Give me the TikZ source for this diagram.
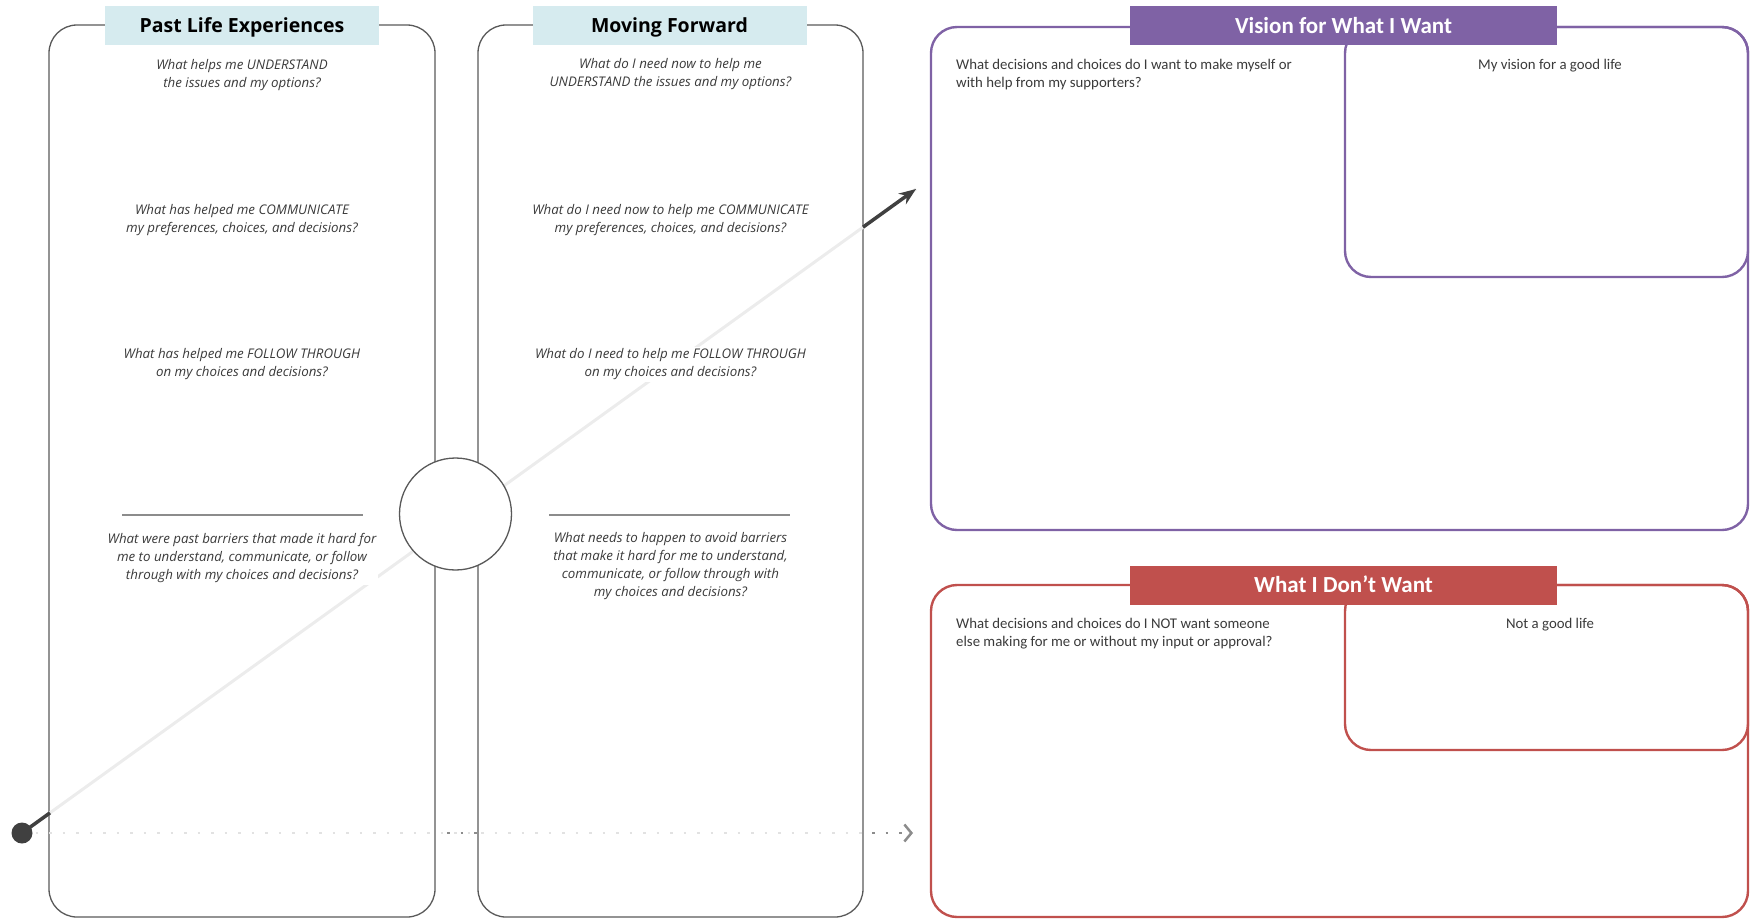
\documentclass[tikz,border=0pt]{standalone}
\usepackage{fontspec}
\setmainfont{Open Sans}
\newfontfamily\calfont{Carlito}
\usetikzlibrary{calc,arrows.meta}
\definecolor{panelgrey}{HTML}{595959}
\definecolor{hdrblue}{HTML}{D6EBEF}
\definecolor{qgrey}{HTML}{3A3A3A}
\definecolor{vpurple}{HTML}{7F62A5}
\definecolor{dred}{HTML}{C0504D}
\definecolor{lightline}{HTML}{ECECEC}
\definecolor{darkline}{HTML}{404040}
\definecolor{dotlight}{HTML}{E2E2E2}
\definecolor{dotdark}{HTML}{8C8C8C}
\begin{document}
\begin{tikzpicture}[x=1pt,y=-1pt,
  panel/.style={draw=panelgrey, line width=1.3pt, rounded corners=28pt, rectangle, inner sep=0pt},
  cpanel/.style={line width=2.4pt, rounded corners=26pt, rectangle, inner sep=0pt},
  bluehdr/.style={fill=hdrblue, minimum width=274pt, minimum height=39pt, inner sep=0pt, text height=14pt, text depth=0pt, text=black, font=\bfseries\fontsize{19.5}{22}\selectfont},
  colhdr/.style={minimum width=427pt, minimum height=39pt, inner sep=0pt, text height=15pt, text depth=0pt, text=white, font=\calfont\bfseries\fontsize{23}{25}\selectfont},
  q/.style={font=\itshape\fontsize{13.3}{18}\selectfont, text=qgrey, align=center, inner sep=2pt, fill=white},
  rq/.style={font=\calfont\fontsize{14.8}{18}\selectfont, text=qgrey, align=left, inner sep=0pt},
  sep/.style={draw=dotdark, line width=2pt},
]
\useasboundingbox (0,0) rectangle (1750,919);
% left panels
\node[panel, minimum width=386pt, minimum height=892pt] (past) at (242,471) {};
\node[panel, minimum width=385pt, minimum height=892pt] (fwd) at (670.5,471) {};
\node[bluehdr] (pasthdr) at (242,25.5) {Past Life Experiences};
\node[bluehdr] (fwdhdr) at (669.5,25.5) {Moving Forward};
% right panels
\node[cpanel, draw=vpurple, minimum width=817pt, minimum height=503pt] (vision) at (1339.5,278.5) {};
\node[cpanel, draw=vpurple, minimum width=403pt, minimum height=250pt] (good) at (1546.5,152) {};
\node[colhdr, fill=vpurple] (visionhdr) at (1343.5,25.5) {Vision for What I Want};
\node[cpanel, draw=dred, minimum width=817pt, minimum height=332pt] (dont) at (1339.5,751) {};
\node[cpanel, draw=dred, minimum width=403pt, minimum height=165pt] (notgood) at (1546.5,667.5) {};
\node[colhdr, fill=dred] (donthdr) at (1343.5,585) {What I Don’t Want};
% timeline (under the texts)
\coordinate (start) at (22,833);
\coordinate (tip) at (916,189);
\coordinate (chev) at (913,833);
\draw[dotlight, line width=2.5pt, dash pattern=on 2.5pt off 11pt] (start) -- (868,833);
\draw[dotdark, line width=2.5pt, dash pattern=on 2.5pt off 11pt] (447,833) -- (478,833);
\draw[dotdark, line width=2.5pt, dash pattern=on 2.5pt off 11pt, -{Straight Barb[length=7pt,width=17pt,line width=2.5pt]}] (872,833) -- (chev);
\draw[lightline, line width=3pt] (start) -- (tip);
% questions left
\node[q] (p1) at (242,75) {What helps me UNDERSTAND\\the issues and my options?};
\node[q] (p2) at (242,220) {What has helped me COMMUNICATE\\my preferences, choices, and decisions?};
\node[q] (p3) at (242,364.5) {What has helped me FOLLOW THROUGH\\on my choices and decisions?};
\node[q] (p4) at (242,558) {What were past barriers that made it hard for\\me to understand, communicate, or follow\\through with my choices and decisions?};
\node[q] (f1) at (670.5,74.5) {What do I need now to help me\\UNDERSTAND the issues and my options?};
\node[q] (f2) at (670.5,220) {What do I need now to help me COMMUNICATE\\my preferences, choices, and decisions?};
\node[q] (f3) at (670.5,364.5) {What do I need to help me FOLLOW THROUGH\\on my choices and decisions?};
\node[q] (f4) at (670.5,566.5) {What needs to happen to avoid barriers\\that make it hard for me to understand,\\communicate, or follow through with\\my choices and decisions?};
\draw[sep] (122,515) -- (363,515);
\draw[sep] (549,515) -- (790,515);
% right texts
\node[rq, anchor=north west] (v1) at (956,59) {What decisions and choices do I want to make myself or\\with help from my supporters?};
\node[rq] (v2) at (1550,66) {My vision for a good life};
\node[rq, anchor=north west] (d1) at (956,618) {What decisions and choices do I NOT want someone\\else making for me or without my input or approval?};
\node[rq] (d2) at (1550,625) {Not a good life};
% hub and dark ends
\node[circle, draw=panelgrey, line width=1.3pt, fill=white, minimum size=112pt, inner sep=0pt] (hub) at (455.5,514) {};
\draw[darkline, line width=3.5pt] (start) -- ($(start)!0.0313!(tip)$);
\draw[darkline, line width=3.5pt, -{Stealth[length=17pt,width=13pt]}] ($(start)!0.9407!(tip)$) -- (tip);
\node[circle, fill=darkline, minimum size=21pt, inner sep=0pt] (dot) at (start) {};
\end{tikzpicture}
\end{document}
